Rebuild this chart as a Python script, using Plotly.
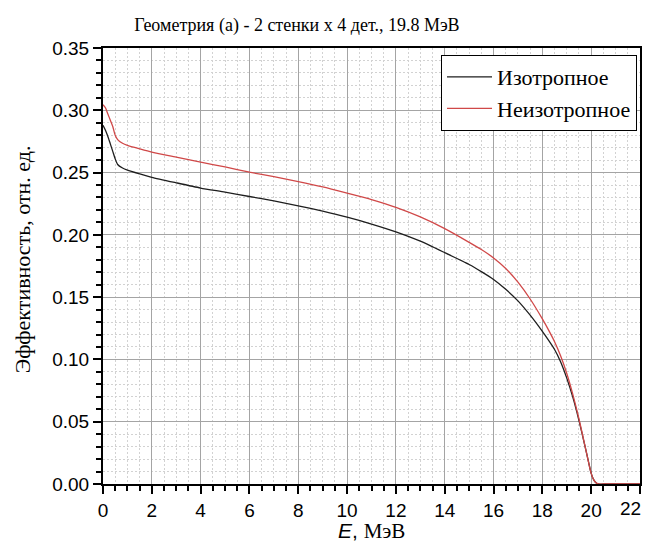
import plotly.graph_objects as go

energy = [0, 0.1, 0.2, 0.3, 0.4, 0.5, 0.6, 0.8, 1.0, 1.5, 2, 3, 4, 5, 6, 7, 8, 9, 10,
          11, 12, 13, 14, 15, 15.5, 16, 16.5, 17, 17.5, 18, 18.25, 18.5, 18.75, 19, 19.25,
          19.5, 19.75, 19.9, 20, 20.1, 20.2, 20.3, 20.5, 21, 22]

iso = [0.288, 0.284, 0.279, 0.273, 0.267, 0.261, 0.2565, 0.2537, 0.252, 0.249, 0.2462,
       0.2418, 0.2376, 0.2343, 0.2308, 0.2272, 0.2233, 0.219, 0.2142, 0.2087, 0.2024,
       0.1949, 0.1857, 0.1762, 0.1705, 0.1642, 0.1563, 0.147, 0.1355, 0.1225, 0.1155,
       0.108, 0.098, 0.085, 0.0695, 0.051, 0.030, 0.017, 0.0085, 0.0035, 0.001, 0, 0, 0, 0]

aniso = [0.3045, 0.302, 0.297, 0.292, 0.287, 0.280, 0.2765, 0.2735, 0.2718, 0.269,
         0.2664, 0.2624, 0.2583, 0.2545, 0.2503, 0.2467, 0.2428, 0.2385, 0.2335, 0.2283,
         0.2221, 0.2144, 0.205, 0.194, 0.1882, 0.1815, 0.173, 0.162, 0.1485, 0.1325,
         0.1237, 0.1142, 0.1027, 0.0887, 0.0717, 0.0522, 0.0302, 0.0167, 0.0085, 0.0035,
         0.001, 0, 0, 0, 0]

names = ["Изотропное", "Неизотропное"]
title_text = "Геометрия (а) - 2 стенки х 4 дет., 19.8 МэВ"
ytitle = "Эффективность, отн. ед."
xtitle = "<i>E</i>, <span style='font-family:Liberation Serif'>МэВ</span>"
x_tickvals = [0, 2, 4, 6, 8, 10, 12, 14, 16, 18, 20, 22]
x_ticktext = ["0", "2", "4", "6", "8", "10", "12", "14", "16", "18", "20", ""]
last_xlabel = "22"

serif = "Liberation Serif, Times New Roman, serif"
sans = "Liberation Sans, Arial, sans-serif"

W, H = 638, 535
L, R, T, B = 95, 4, 40, 59
pw, ph = W - L - R, H - T - B

fig = go.Figure()
fig.add_trace(go.Scatter(x=energy, y=iso, mode="lines", name=names[0],
                         line=dict(color="#1e1e1e", width=1.3, shape="spline", smoothing=0.6)))
fig.add_trace(go.Scatter(x=energy, y=aniso, mode="lines", name=names[1],
                         line=dict(color="#d04848", width=1.3, shape="spline", smoothing=0.6)))

axis_common = dict(
    showline=True, linecolor="black", linewidth=2, mirror=True,
    ticks="outside", ticklen=8, tickwidth=2, tickcolor="black",
    showgrid=True, gridcolor="#a4a4a4", gridwidth=1,
    zeroline=False,
    tickfont=dict(family=sans, size=19, color="black"),
)

minor_common = dict(ticks="outside", ticklen=5, tickwidth=1.5, tickcolor="black",
                    showgrid=True, gridcolor="#d2d2d2", griddash="2px,2px", gridwidth=1)

fig.update_xaxes(range=[0, 22], tickmode="array", tickvals=x_tickvals, ticktext=x_ticktext,
                 minor=dict(dtick=0.5, tick0=0, **minor_common), **axis_common)
fig.update_yaxes(range=[0, 0.35], dtick=0.05, tick0=0, tickformat=".2f",
                 minor=dict(dtick=0.01, **minor_common), **axis_common)

# last x tick label kept inside the page edge
fig.add_annotation(text=last_xlabel, xref="paper", yref="paper",
                   x=(637 - L) / pw, y=0, xanchor="right", yanchor="middle", yshift=-24,
                   showarrow=False, font=dict(family=sans, size=19, color="black"))
fig.add_annotation(text=ytitle, xref="paper", yref="paper",
                   x=(14 - L) / pw, y=(H - B - 251) / ph, textangle=-90,
                   showarrow=False, xanchor="center", yanchor="middle",
                   font=dict(family=serif, size=22, color="#000000"))
fig.add_annotation(text=xtitle, xref="paper", yref="paper",
                   x=(364 - L) / pw, y=(H - B - 522.5) / ph,
                   showarrow=False, xanchor="center", yanchor="middle",
                   font=dict(family=sans, size=21, color="black"))

fig.update_layout(
    width=W, height=H,
    margin=dict(l=L, r=R, t=T, b=B),
    paper_bgcolor="white", plot_bgcolor="white",
    title=dict(text=title_text, x=289 / W, xanchor="center", y=1 - 17 / H, yanchor="middle",
               font=dict(family=serif, size=18, color="black")),
    legend=dict(x=(631 - L) / pw, y=(H - B - 47) / ph, xanchor="right", yanchor="top",
                bgcolor="white", bordercolor="black", borderwidth=1,
                font=dict(family=serif, size=22, color="black"),
                tracegroupgap=0, itemwidth=45),
    showlegend=True,
)

fig.write_html("out.html")
